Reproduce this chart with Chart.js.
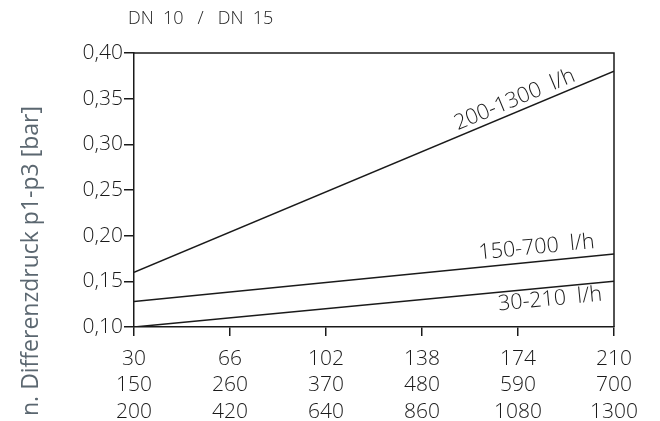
<!DOCTYPE html>
<html>
<head>
<meta charset="utf-8">
<script src="https://cdn.jsdelivr.net/npm/chart.js@4"></script>
<style>
  html, body { margin: 0; padding: 0; background: #fff; }
  #wrap { width: 660px; height: 421px; }
</style>
</head>
<body>
<div id="wrap"><canvas id="chart"></canvas></div>
<script>
// Data
const xRow1 = [30, 66, 102, 138, 174, 210];      // 30-210 l/h
const xRow2 = [150, 260, 370, 480, 590, 700];    // 150-700 l/h
const xRow3 = [200, 420, 640, 860, 1080, 1300];  // 200-1300 l/h
const yTicks = [0.10, 0.15, 0.20, 0.25, 0.30, 0.35, 0.40];

const series30_210 = [0.100, 0.150];
const series150_700 = [0.128, 0.180];
const series200_1300 = [0.160, 0.380];
const xEnds = [30, 210];

const lineLabels = ['200-1300  l/h', '150-700  l/h', '30-210  l/h'];

const ink = '#1a1a1a';
const font = "'Open Sans', sans-serif";

function toPoints(vals) {
    return vals.map((v, i) => ({ x: xEnds[i], y: v }));
}

// box round the plot area, axis title and labels along the lines
const extras = {
    id: 'extras',
    afterDraw(chart) {
        const { ctx, chartArea: a, scales } = chart;
        ctx.save();
        ctx.strokeStyle = ink;
        ctx.lineWidth = 1.5;
        ctx.beginPath();
        ctx.moveTo(a.left, a.top);
        ctx.lineTo(a.right, a.top);
        ctx.lineTo(a.right, a.bottom);
        ctx.stroke();

        ctx.fillStyle = ink;
        ctx.font = '300 18px ' + font;
        ctx.textBaseline = 'middle';
        ctx.textAlign = 'left';
        ctx.fillText('DN  10   /   DN  15', 128, 19);

        ctx.save();
        ctx.translate(31, 261);
        ctx.rotate(-Math.PI / 2);
        ctx.textAlign = 'center';
        ctx.fillStyle = '#5b6770';
        ctx.font = '23px ' + font;
        ctx.fillText('n. Differenzdruck p1-p3 [bar]', 0, 0);
        ctx.restore();

        // labels sit along each line, offset to one side
        const place = [
            { ds: 2, at: 174.5, off: -12 },
            { ds: 1, at: 181.5, off: -14 },
            { ds: 0, at: 185.6, off: 12 }
        ];
        ctx.font = '300 21.5px ' + font;
        ctx.textAlign = 'center';
        place.forEach((p, i) => {
            const pts = chart.data.datasets[p.ds].data;
            const x0 = scales.x.getPixelForValue(pts[0].x), y0 = scales.y.getPixelForValue(pts[0].y);
            const x1 = scales.x.getPixelForValue(pts[1].x), y1 = scales.y.getPixelForValue(pts[1].y);
            const ang = Math.atan2(y1 - y0, x1 - x0);
            const t = (p.at - pts[0].x) / (pts[1].x - pts[0].x);
            const px = x0 + (x1 - x0) * t, py = y0 + (y1 - y0) * t;
            ctx.save();
            ctx.translate(px, py);
            ctx.rotate(ang);
            ctx.fillText(lineLabels[i], 0, p.off);
            ctx.restore();
        });
        ctx.restore();
    }
};

new Chart(document.getElementById('chart'), {
    type: 'line',
    data: {
        datasets: [
            { data: toPoints(series30_210) },
            { data: toPoints(series150_700) },
            { data: toPoints(series200_1300) }
        ]
    },
    options: {
        responsive: true,
        maintainAspectRatio: false,
        animation: false,
        layout: { padding: { top: 53, right: 46, left: 0, bottom: 0 } },
        elements: {
            line: { borderColor: ink, borderWidth: 1.5, tension: 0 },
            point: { radius: 0 }
        },
        plugins: { legend: { display: false }, tooltip: { enabled: false } },
        scales: {
            x: {
                type: 'linear',
                min: 30, max: 210,
                afterBuildTicks: s => { s.ticks = xRow1.map(v => ({ value: v })); },
                afterFit: s => { s.height = 94; },
                grid: { drawOnChartArea: false, drawTicks: true, tickLength: 9, color: ink, lineWidth: 1.5 },
                border: { display: true, color: ink, width: 1.5 },
                ticks: {
                    color: ink,
                    font: { family: font, size: 21, weight: '300', lineHeight: 1.25 },
                    maxRotation: 0,
                    padding: 10,
                    callback: (v) => {
                        const i = xRow1.indexOf(v);
                        return i < 0 ? '' : [String(xRow1[i]), String(xRow2[i]), String(xRow3[i])];
                    }
                }
            },
            y: {
                type: 'linear',
                min: 0.10, max: 0.40,
                afterBuildTicks: s => { s.ticks = yTicks.map(v => ({ value: v })); },
                afterFit: s => { s.width = 134; },
                grid: { drawOnChartArea: false, drawTicks: true, tickLength: 10, color: ink, lineWidth: 1.5 },
                border: { display: true, color: ink, width: 1.5 },
                ticks: {
                    color: ink,
                    font: { family: font, size: 21, weight: '300' },
                    padding: 1,
                    callback: v => v.toFixed(2).replace('.', ',')
                }
            }
        }
    },
    plugins: [extras]
});
</script>
</body>
</html>
